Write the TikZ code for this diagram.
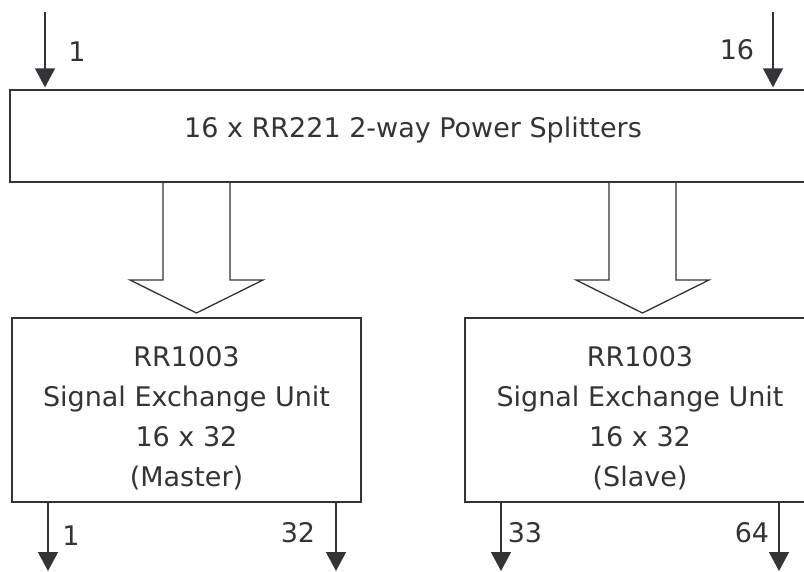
\documentclass[tikz,border=0pt]{standalone}
\usepackage{fontspec}
\setmainfont{DejaVu Sans}
\usetikzlibrary{arrows.meta,positioning,calc}
\definecolor{ink}{RGB}{51,51,56}
\tikzset{
  sig/.style={line width=1.3pt,ink,-{Triangle[width=20pt,length=19pt]}},
  unit/.style={draw=ink,line width=1.3pt,align=center,text=ink,
    font=\fontsize{27}{40}\selectfont,inner sep=0pt},
  port/.style={text=ink,font=\fontsize{27}{30}\selectfont,inner sep=0pt},
  fat/.style={draw=ink,line width=1.3pt,line join=miter}
}

\begin{document}
\begin{tikzpicture}[x=1pt,y=-1pt]
  \useasboundingbox (0,0) rectangle (804,571);
  % splitter bank and the two exchange units
  \node[unit,minimum width=806pt,minimum height=92pt,text depth=18pt] (split)
    at (413,136) {16 x RR221 2-way Power Splitters};
  \node[unit,minimum width=349pt,minimum height=184pt] (master) at (186.5,410)
    {\rule{0pt}{36pt}RR1003\\Signal Exchange Unit\\16 x 32\\(Master)};
  \node[unit,minimum width=350pt,minimum height=184pt] (slave) at (640,410)
    {\rule{0pt}{36pt}RR1003\\Signal Exchange Unit\\16 x 32\\(Slave)};
  % wide arrows from the splitters
  \foreach \tx in {196.5,642.5}
    \draw[fat] (\tx-33.5,182) -- (\tx-33.5,280) -- (\tx-66.5,280) -- (\tx,313)
      -- (\tx+66.5,280) -- (\tx+33.5,280) -- (\tx+33.5,182);
  % inputs
  \coordinate (in1) at (45,12);
  \coordinate (in16) at (773,12);
  \draw[sig,shorten >=2pt] (in1) -- (in1 |- split.north);
  \draw[sig,shorten >=2pt] (in16) -- (in16 |- split.north);
  \node[port] (lin1) at (77,52) {1};
  \node[port] (lin16) at (737,50) {16};
  % outputs
  \coordinate (out1) at (48,571);
  \coordinate (out32) at (336,571);
  \coordinate (out33) at (501,571);
  \coordinate (out64) at (779,571);
  \draw[sig] (out1 |- master.south) -- (out1);
  \draw[sig] (out32 |- master.south) -- (out32);
  \draw[sig] (out33 |- slave.south) -- (out33);
  \draw[sig] (out64 |- slave.south) -- (out64);
  \node[port] (lout1) at (71,536) {1};
  \node[port] (lout32) at (298,533) {32};
  \node[port] (lout33) at (525,533) {33};
  \node[port] (lout64) at (752,533) {64};
\end{tikzpicture}
\end{document}
